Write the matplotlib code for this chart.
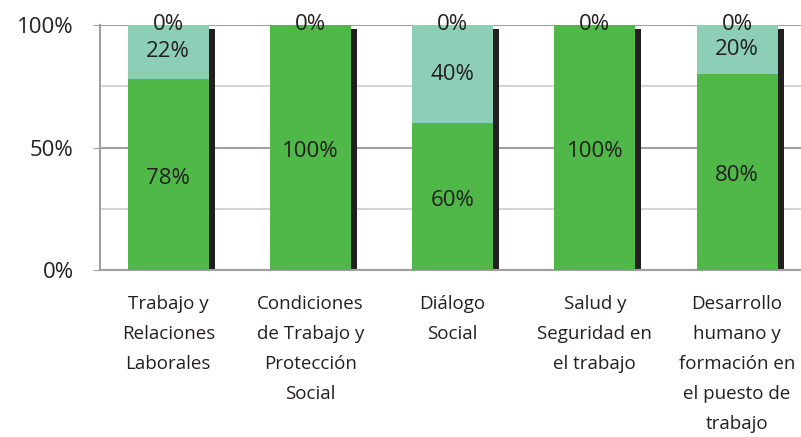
import matplotlib.pyplot as plt
import numpy as np

plt.rcParams['font.family'] = ['Open Sans', 'DejaVu Sans']

# data (percent)
categories = ["Trabajo y\nRelaciones\nLaborales",
              "Condiciones\nde Trabajo y\nProtección\nSocial",
              "Diálogo\nSocial",
              "Salud y\nSeguridad en\nel trabajo",
              "Desarrollo\nhumano y\nformación en\nel puesto de\ntrabajo"]
si = [78, 100, 60, 100, 80]
parcial = [22, 0, 40, 0, 20]
no = [0, 0, 0, 0, 0]

green = '#50b848'
light = '#8dcfb6'
shadow = '#231f20'

fig = plt.figure(figsize=(8.01, 4.37), dpi=100)
ax = fig.add_axes([100 / 801, 167 / 437, 711 / 801, 245 / 437])

x = np.arange(len(categories))
w = 0.57
xb = x - 0.02

# shadow strip on the right side of each bar
total = np.array(si) + np.array(parcial) + np.array(no)
ax.bar(xb + w / 2 + 0.021, total - 1.6, width=0.042, color=shadow, zorder=2)

ax.bar(xb, si, width=w, color=green, zorder=3)
ax.bar(xb, parcial, width=w, bottom=si, color=light, zorder=3)

for i in range(len(categories)):
    ax.text(xb[i], si[i] / 2 - 1.5, f"{si[i]}%", ha='center', va='center',
            fontsize=16, color='#231f20', zorder=5)
    if parcial[i] > 0:
        ax.text(xb[i], si[i] + parcial[i] / 2, f"{parcial[i]}%", ha='center',
                va='center', fontsize=16, color='#231f20', zorder=5)
    ax.text(xb[i], si[i] + parcial[i] + no[i] / 2, f"{no[i]}%", ha='center',
            va='center', fontsize=16, color='#231f20', zorder=5)

ax.set_xlim(-0.5, 4.5)
ax.set_ylim(0, 100)
ax.set_yticks([0, 50, 100])
ax.set_yticklabels(['0%', '50%', '100%'], fontsize=16, color='#231f20')
ax.set_yticks([25, 75], minor=True)
ax.tick_params(axis='y', which='major', length=5, color='#a0a0a0', pad=14)
ax.tick_params(axis='y', which='minor', length=0)
ax.grid(axis='y', which='major', color='#a0a0a0', linewidth=1.5, zorder=1)
ax.grid(axis='y', which='minor', color='#d4d4d4', linewidth=1.5, zorder=1)

ax.set_xticks(xb)
ax.set_xticklabels(categories, fontsize=13.5, color='#231f20', linespacing=1.85)
ax.tick_params(axis='x', length=0, pad=18)

for s in ['top', 'right']:
    ax.spines[s].set_visible(False)
for s in ['left', 'bottom']:
    ax.spines[s].set_color('#a0a0a0')
    ax.spines[s].set_linewidth(1.5)

fig.savefig('out.png', dpi=100)
